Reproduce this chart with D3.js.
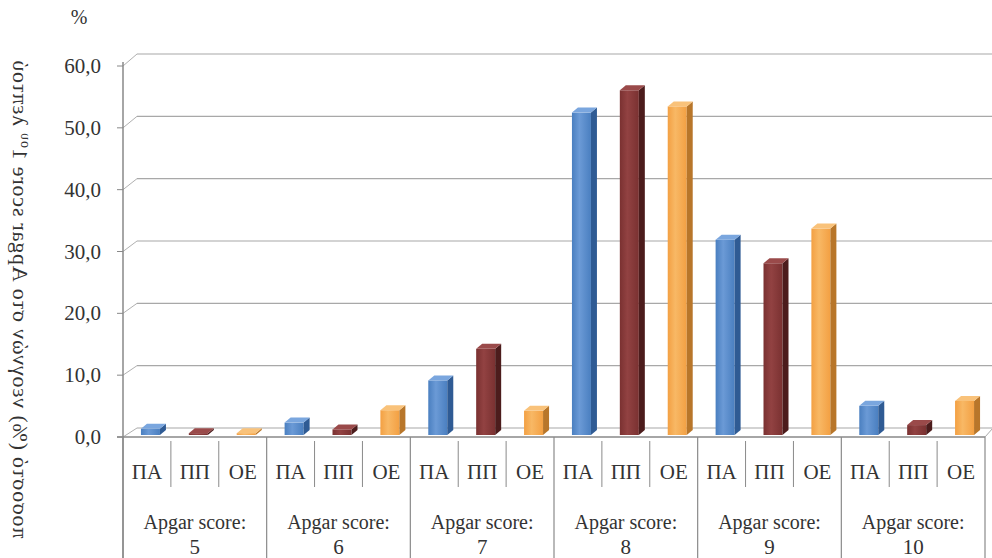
<!DOCTYPE html>
<html>
<head>
<meta charset="utf-8">
<script src="https://cdn.jsdelivr.net/npm/d3@7"></script>
</head>
<body style="margin:0">
<script>
// data (% of newborns per 1st-minute Apgar score)
let apgar = ["5", "6", "7", "8", "9", "10"];
let groups = ["ΠΑ", "ΠΠ", "ΟΕ"];
let valuesPA = [1.0, 2.0, 8.8, 52.0, 31.5, 4.7];
let valuesPP = [0.3, 0.9, 13.9, 55.6, 27.7, 1.6];
let valuesOE = [0.3, 4.0, 3.9, 53.0, 33.3, 5.5];
let yTicks = [0, 10, 20, 30, 40, 50, 60];

let series = [valuesPA, valuesPP, valuesOE];
let colors = [
    {front: "#4a7fc0", light: "#6b9ad6", side: "#2f5b94", top: "#7aa6de"},
    {front: "#7a3131", light: "#924242", side: "#4c1c1c", top: "#9a4a4a"},
    {front: "#f3a043", light: "#f8b865", side: "#b8762a", top: "#f9c27a"}
];

let W = 992, H = 558;
let plotLeft = 123, plotRight = 985;
let depthX = 14;
let fontName = "Liberation Serif";

let svg = d3.select("body")
    .append("svg")
    .attr("width", W)
    .attr("height", H);

let defs = svg.append("defs");
colors.forEach((c, i) => {
    let g = defs.append("linearGradient")
        .attr("id", "grad" + i)
        .attr("x1", "0").attr("x2", "1").attr("y1", "0").attr("y2", "0");
    g.append("stop").attr("offset", "0%").attr("stop-color", c.front);
    g.append("stop").attr("offset", "40%").attr("stop-color", c.light);
    g.append("stop").attr("offset", "100%").attr("stop-color", c.front);
});

let yFront = d3.scaleLinear().domain([0, 60]).range([437, 66]);
let yBack = d3.scaleLinear().domain([0, 60]).range([428, 54]);
let yBar = d3.scaleLinear().domain([0, 60]).range([435, 63]);

let x0 = d3.scaleBand().domain(apgar).range([plotLeft, plotRight]);
let x1 = d3.scaleBand().domain(groups).range([0, x0.bandwidth()]);

// back wall gridlines
svg.selectAll(".grid")
    .data(yTicks)
    .enter()
    .append("line")
    .attr("x1", plotLeft + depthX)
    .attr("x2", W)
    .attr("y1", d => yBack(d))
    .attr("y2", d => yBack(d))
    .attr("stroke", "#a8a8a8")
    .attr("stroke-width", 1.2);

// side wall diagonals
svg.selectAll(".diag")
    .data(yTicks)
    .enter()
    .append("line")
    .attr("x1", plotLeft)
    .attr("x2", plotLeft + depthX)
    .attr("y1", d => yFront(d))
    .attr("y2", d => yBack(d))
    .attr("stroke", "#b0b0b0")
    .attr("stroke-width", 1);

// right floor edge
svg.append("line")
    .attr("x1", plotRight).attr("y1", yFront(0))
    .attr("x2", plotRight + 8).attr("y2", yBack(0))
    .attr("stroke", "#a8a8a8");

// vertical axis
svg.append("line")
    .attr("x1", plotLeft).attr("x2", plotLeft)
    .attr("y1", yFront(60) - 4).attr("y2", H)
    .attr("stroke", "#888")
    .attr("stroke-width", 1.5);

svg.selectAll(".tick")
    .data(yTicks)
    .enter()
    .append("line")
    .attr("x1", plotLeft - 6)
    .attr("x2", plotLeft)
    .attr("y1", d => yFront(d))
    .attr("y2", d => yFront(d))
    .attr("stroke", "#888");

svg.selectAll(".ylabel")
    .data(yTicks)
    .enter()
    .append("text")
    .attr("x", 101)
    .attr("y", d => yFront(d) + 7)
    .attr("text-anchor", "end")
    .attr("font-family", fontName)
    .attr("font-size", 21)
    .attr("fill", "#333")
    .text(d => d.toFixed(1).replace(".", ","));

svg.append("text")
    .attr("x", 79)
    .attr("y", 24)
    .attr("text-anchor", "middle")
    .attr("font-family", fontName)
    .attr("font-size", 20)
    .attr("fill", "#333")
    .text("%");

// axis title (mirrored as in the scan)
let yTitle = svg.append("text")
    .attr("transform", "translate(13,299) rotate(-90) scale(1,-1)")
    .attr("text-anchor", "middle")
    .attr("font-family", fontName)
    .attr("font-size", 22)
    .attr("fill", "#333")
    .attr("letter-spacing", 0.8);
yTitle.append("tspan").text("ποσοστό (%) νεογνών στο Apgar score 1");
yTitle.append("tspan").attr("dy", -8).attr("font-size", 14).text("ου");
yTitle.append("tspan").attr("dy", 8).text(" λεπτού");

// bars
series.forEach((vals, s) => {
    let c = colors[s];
    let bw = 19, dx = 6, dy = -5;
    let g = svg.append("g");
    vals.forEach((v, i) => {
        let cx = x0(apgar[i]) + x1(groups[s]) + x1.bandwidth() / 2 + 3.5;
        let x = cx - bw / 2;
        let yt = yBar(v), yb = yBar(0);
        g.append("rect")
            .attr("x", x).attr("y", yt)
            .attr("width", bw).attr("height", yb - yt)
            .attr("fill", "url(#grad" + s + ")");
        g.append("polygon")
            .attr("points", [[x + bw, yt], [x + bw + dx, yt + dy], [x + bw + dx, yb + dy], [x + bw, yb]].join(" "))
            .attr("fill", c.side);
        g.append("polygon")
            .attr("points", [[x, yt], [x + dx, yt + dy], [x + bw + dx, yt + dy], [x + bw, yt]].join(" "))
            .attr("fill", c.top);
    });
});

// category table
svg.append("line")
    .attr("x1", plotLeft - 6).attr("x2", plotRight)
    .attr("y1", yFront(0)).attr("y2", yFront(0))
    .attr("stroke", "#888")
    .attr("stroke-width", 1.5);

svg.selectAll(".gline")
    .data(apgar.concat(["end"]))
    .enter()
    .append("line")
    .attr("x1", (d, i) => plotLeft + i * x0.bandwidth())
    .attr("x2", (d, i) => plotLeft + i * x0.bandwidth())
    .attr("y1", yFront(0))
    .attr("y2", H)
    .attr("stroke", "#8a8a8a")
    .attr("stroke-width", 1.2);

apgar.forEach(a => {
    let gx = x0(a);
    [1, 2].forEach(k => {
        svg.append("line")
            .attr("x1", gx + x1(groups[k])).attr("x2", gx + x1(groups[k]))
            .attr("y1", yFront(0) + 4).attr("y2", 487)
            .attr("stroke", "#8a8a8a");
    });
    groups.forEach(gr => {
        svg.append("text")
            .attr("x", gx + x1(gr) + x1.bandwidth() / 2)
            .attr("y", 479)
            .attr("text-anchor", "middle")
            .attr("font-family", fontName)
            .attr("font-size", 21)
            .attr("fill", "#333")
            .text(gr);
    });
    svg.append("text")
        .attr("x", gx + x0.bandwidth() / 2)
        .attr("y", 529)
        .attr("text-anchor", "middle")
        .attr("font-family", fontName)
        .attr("font-size", 20)
        .attr("fill", "#333")
        .text("Apgar score:");
    svg.append("text")
        .attr("x", gx + x0.bandwidth() / 2)
        .attr("y", 554)
        .attr("text-anchor", "middle")
        .attr("font-family", fontName)
        .attr("font-size", 21)
        .attr("fill", "#333")
        .text(a);
});
</script>
</body>
</html>
